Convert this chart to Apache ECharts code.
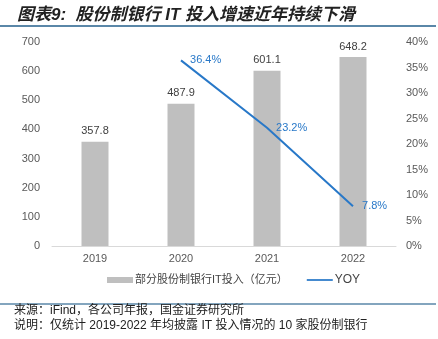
<!DOCTYPE html>
<html><head><meta charset="utf-8">
<script src="https://cdn.jsdelivr.net/npm/echarts@6/dist/echarts.min.js"></script>
<style>html,body{margin:0;padding:0;background:#fff}#c{width:438px;height:339px}</style>
</head><body><div id="c"></div>
<script>
const categories = ['2019','2020','2021','2022'];
const itInvest = [357.8, 487.9, 601.1, 648.2];
const yoy = [null, 36.4, 23.2, 7.8];
const leftTicks = [0,100,200,300,400,500,600,700];
const rightTicks = [0,5,10,15,20,25,30,35,40];
const titleText = '图表9:  股份制银行 IT 投入增速近年持续下滑';
const sourceText = '来源：iFind，各公司年报，国金证券研究所';
const noteText = '说明：仅统计 2019-2022 年均披露 IT 投入情况的 10 家股份制银行';

const chart = echarts.init(document.getElementById('c'));
const font = '"Liberation Sans", "Noto Sans CJK SC", sans-serif';
const blue = '#2878c8';
chart.setOption({
  animation: false,
  textStyle: {fontFamily: font},
  title: {text: titleText, left: 12, top: 2,
    textStyle: {fontSize: 17, fontStyle: 'italic', fontWeight: 'bold', color: '#222', fontFamily: font}},
  graphic: [
    {type:'line', shape:{x1:0,y1:26,x2:436,y2:26}, style:{stroke:'#5a87a8', lineWidth:2}},
    {type:'line', shape:{x1:0,y1:304,x2:436,y2:304}, style:{stroke:'#5a87a8', lineWidth:1.5}},
    {type:'text', left: 14, top: 305, style:{text: sourceText, fontSize: 12, fill:'#222', fontFamily: font}},
    {type:'text', left: 14, top: 320, style:{text: noteText, fontSize: 12, fill:'#222', fontFamily: font}}
  ],
  grid: {left: 52, right: 42, top: 42, bottom: 93},
  legend: {left: 102, bottom: 48, itemGap: 19, itemWidth: 26, itemHeight: 6,
    textStyle:{fontSize: 11, color:'#444', padding:[0,0,0,-3]},
    data: [{name:'部分股份制银行IT投入（亿元）', icon:'rect'},
           {name:'YOY', icon:'path://M0,0 L30,0 L30,2 L0,2 Z', itemStyle:{color: blue}, textStyle:{fontSize: 12}}]},
  xAxis: {type:'category', data: categories,
    axisLine:{lineStyle:{color:'#d9d9d9'}}, axisTick:{show:false},
    axisLabel:{color:'#595959', fontSize: 11, margin: 7}},
  yAxis: [
    {type:'value', min:0, max:700, interval:100, splitLine:{show:false},
     axisLabel:{color:'#595959', fontSize: 11, margin: 12}},
    {type:'value', min:0, max:40, interval:5, splitLine:{show:false},
     axisLabel:{color:'#595959', fontSize: 11, formatter:'{value}%', margin: 10}}
  ],
  series: [
    {name:'部分股份制银行IT投入（亿元）', type:'bar', data: itInvest, barWidth: 27,
     itemStyle:{color:'#bfbfbf'},
     label:{show:true, position:'top', color:'#404040', fontSize:11, distance: 5, formatter: p => p.value.toFixed(1)}},
    {name:'YOY', type:'line', yAxisIndex:1, data: yoy, symbol:'circle', symbolSize: 0.1, showSymbol: true,
     lineStyle:{color: blue, width: 2}, itemStyle:{color: blue},
     label:{show:true, position:'right', color: blue, fontSize:11, distance: 9, formatter: p => p.value.toFixed(1)+'%'}}
  ]
});
</script></body></html>
